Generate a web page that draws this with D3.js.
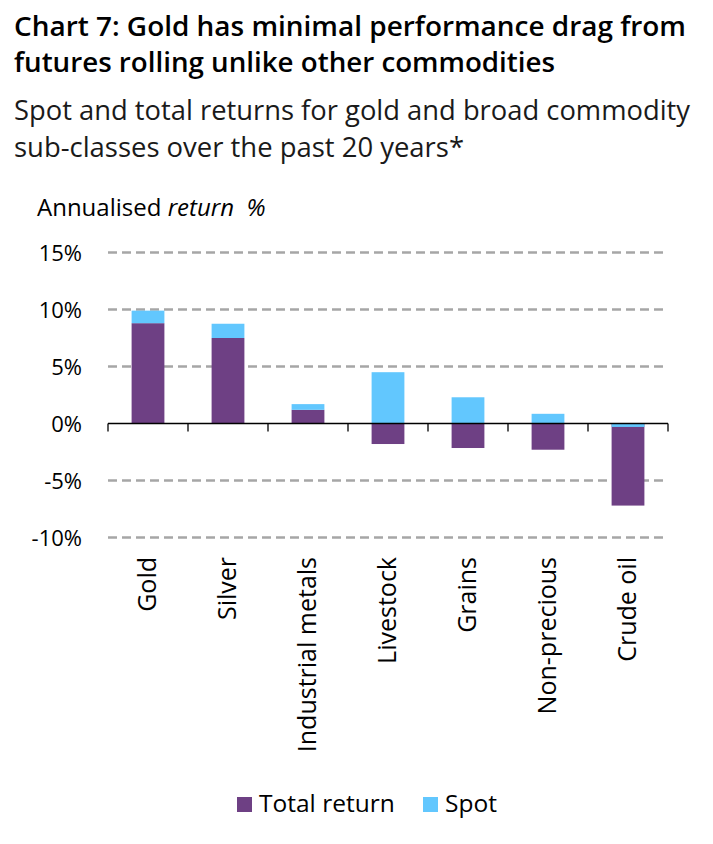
<!DOCTYPE html>
<html><head><meta charset="utf-8">
<script src="https://cdn.jsdelivr.net/npm/d3@7"></script>
<style>body{margin:0;background:#fff}svg{display:block}</style>
</head><body>
<svg id="c" width="713" height="844"></svg>
<script>
const categories = ["Gold","Silver","Industrial metals","Livestock","Grains","Non-precious","Crude oil"];
const totalReturn = [8.8, 7.5, 1.2, -1.8, -2.15, -2.3, -7.2];
const spot = [9.9, 8.75, 1.7, 4.5, 2.3, 0.85, -0.3];
const yTicks = [15, 10, 5, 0, -5, -10];
const seriesNames = ["Total return", "Spot"];

const purple = "#6E4084", blue = "#62C7FE";
const font = "'Open Sans', 'Noto Sans', sans-serif";
const svg = d3.select("#c");

const title = ["Chart 7: Gold has minimal performance drag from","futures rolling unlike other commodities"];
const titleLen = [672, 541];
title.forEach((t,i)=>svg.append("text").attr("x",14).attr("y",36+i*36).text(t)
  .attr("font-family",font).attr("font-weight",600).attr("font-size",27).attr("fill","#000")
  .attr("textLength",titleLen[i]).attr("lengthAdjust","spacingAndGlyphs"));
const sub = ["Spot and total returns for gold and broad commodity","sub-classes over the past 20 years*"];
const subLen = [676, 450];
sub.forEach((t,i)=>svg.append("text").attr("x",14).attr("y",120+i*37).text(t)
  .attr("font-family",font).attr("font-size",27).attr("fill","#1a1a1a")
  .attr("textLength",subLen[i]).attr("lengthAdjust","spacingAndGlyphs"));

const yl = svg.append("text").attr("x",37).attr("y",216).attr("font-family",font).attr("font-size",24).attr("fill","#000");
yl.append("tspan").text("Annualised ");
yl.append("tspan").attr("font-style","italic").text("return\u00A0 %");

const x = d3.scaleBand().domain(categories).range([108,668]).paddingInner(0.59).paddingOuter(0.295);
const xEdge = d3.scaleLinear().domain([0,categories.length]).range([108,668]);
const y = d3.scaleLinear().domain([-10,15]).range([537.5,252.5]);

// gridlines
svg.append("g").selectAll("line").data(yTicks.filter(d=>d!==0)).join("line")
  .attr("x1",108).attr("x2",667).attr("y1",d=>y(d)).attr("y2",d=>y(d))
  .attr("stroke","#A6A6A6").attr("stroke-width",2.5).attr("stroke-dasharray","9,5");

// y labels
svg.append("g").selectAll("text").data(yTicks).join("text")
  .attr("x",82).attr("y",d=>y(d)+8).attr("text-anchor","end")
  .attr("font-family",font).attr("font-size",22).attr("fill","#000")
  .text(d=>d+"%");

const data = categories.map((c,i)=>({c, t: totalReturn[i], s: spot[i]}));
// total return bars
svg.append("g").selectAll("rect").data(data).join("rect")
  .attr("x",d=>x(d.c)).attr("width",x.bandwidth())
  .attr("y",d=>y(Math.max(0,d.t))).attr("height",d=>Math.abs(y(d.t)-y(0)))
  .attr("fill",purple);
// spot bars (visible portion)
function spotBase(d){ return (Math.sign(d.s)===Math.sign(d.t) && Math.abs(d.s)>Math.abs(d.t)) ? d.t : 0; }
svg.append("g").selectAll("rect").data(data).join("rect")
  .attr("x",d=>x(d.c)).attr("width",x.bandwidth())
  .attr("y",d=>y(Math.max(spotBase(d),d.s))).attr("height",d=>Math.abs(y(d.s)-y(spotBase(d))))
  .attr("fill",blue);

// zero axis
svg.append("line").attr("x1",108).attr("x2",668).attr("y1",y(0)).attr("y2",y(0)).attr("stroke","#000").attr("stroke-width",1.6);
svg.append("g").selectAll("line").data(d3.range(categories.length+1)).join("line")
  .attr("x1",d=>xEdge(d)).attr("x2",d=>xEdge(d)).attr("y1",y(0)).attr("y2",y(0)+8)
  .attr("stroke","#000").attr("stroke-width",1.3);

// x labels
svg.append("g").selectAll("text").data(categories).join("text")
  .attr("transform",c=>`translate(${x(c)+x.bandwidth()/2+8},557) rotate(-90)`)
  .attr("text-anchor","end").attr("font-family",font).attr("font-size",25).attr("fill","#000")
  .text(c=>c);

// legend
const leg = [{n:seriesNames[0],c:purple,x:237},{n:seriesNames[1],c:blue,x:423}];
const lg = svg.append("g").selectAll("g").data(leg).join("g");
lg.append("rect").attr("x",d=>d.x).attr("y",797).attr("width",15).attr("height",15).attr("fill",d=>d.c);
lg.append("text").attr("x",d=>d.x+22).attr("y",812).attr("font-family",font).attr("font-size",24.5).attr("fill","#000").text(d=>d.n);
</script>
</body></html>
